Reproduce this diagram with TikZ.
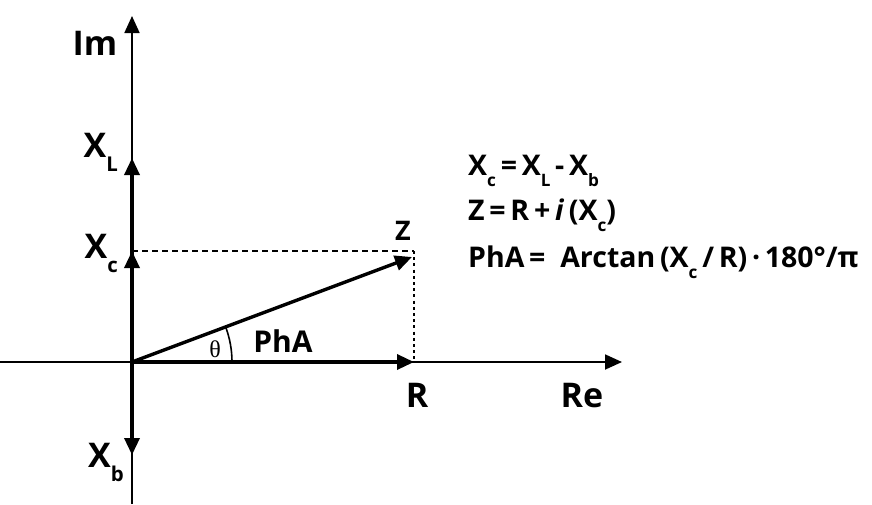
\documentclass[tikz,border=0pt]{standalone}
\usepackage{fontspec}
\setmainfont{Open Sans}
\newfontfamily\grkfont{Open Sans}
\newfontfamily\thetafont{Liberation Serif}
\usetikzlibrary{arrows.meta}
\newcommand\lowsub[1]{\raisebox{-0.42em}{\scalebox{0.6}{#1}}}

\begin{document}
\begin{tikzpicture}[x=1pt, y=-1pt,
  font=\bfseries\fontsize{34}{40}\selectfont,
  >={Triangle[length=17pt,width=15pt]},
  axis/.style={line width=1.8pt, ->},
  vec/.style={line width=3.4pt, ->},
  proj/.style={line width=1.8pt, dash pattern=on 6pt off 4pt},
  drop/.style={line width=2.2pt, dash pattern=on 3pt off 3.2pt},
  lbl/.style={inner sep=0pt},
  small/.style={inner sep=0pt, font=\bfseries\fontsize{27}{32}\selectfont},
  eq/.style={anchor=base west, inner sep=0pt, font=\bfseries\fontsize{28.5}{34}\selectfont}
]
\useasboundingbox (0,0) rectangle (872,504);

% points
\coordinate (O)    at (132,362);
\coordinate (west) at (0,362);
\coordinate (east) at (622,362);
\coordinate (top)  at (132,16);
\coordinate (bot)  at (132,504);
\coordinate (xl)   at (132,158);
\coordinate (xc)   at (132,251);
\coordinate (xb)   at (132,455);
\coordinate (r)    at (414,362);
\coordinate (z)    at (412,257);
\coordinate (zc)   at (414,251);

% axes
\draw[axis] (west) -- (east);
\draw[axis] (bot) -- (top);

% vectors
\draw[vec] (O) -- (xl);
\draw[vec] (O) -- (xc);
\draw[vec] (O) -- (xb);
\draw[vec] (O) -- (r);
\draw[vec] (O) -- (z);

% projections
\draw[proj] (xc) -- (zc);
\draw[drop] (zc) -- (r);

% angle
\draw[line width=1.6pt] (O) ++(100,0) arc[start angle=0, end angle=-20.6, radius=100];

% labels
\node[lbl] (im) at (95,43) {Im};
\node[lbl, anchor=base east] (xllab) at (118,157) {X\lowsub{L}};
\node[lbl, anchor=base east] (xclab) at (118,258) {X\lowsub{c}};
\node[lbl, anchor=base east] (xblab) at (124,467) {X\lowsub{b}};
\node[lbl] (rlab)  at (417,395) {R};
\node[lbl] (relab) at (582,396) {Re};
\node[small] (zlab) at (403,231) {Z};
\node[lbl, font=\bfseries\fontsize{30}{36}\selectfont] (pha) at (283,341) {PhA};
\node[lbl, font=\thetafont\fontsize{24}{26}\selectfont] (theta) at (215,349) {θ};

% formulas
\node[eq] (eq1) at (468,175) {X\lowsub{c}\,=\,X\lowsub{L}\,-\,X\lowsub{b}};
\node[eq] (eq2) at (468,220) {Z\,=\,R\,+\,\textit{i}\,(X\lowsub{c})};
\node[eq] (eq3) at (468,267) {PhA\,=\ \ Arctan\,(X\lowsub{c}\,/\,R)\,·\,180°/π};
\end{tikzpicture}
\end{document}
